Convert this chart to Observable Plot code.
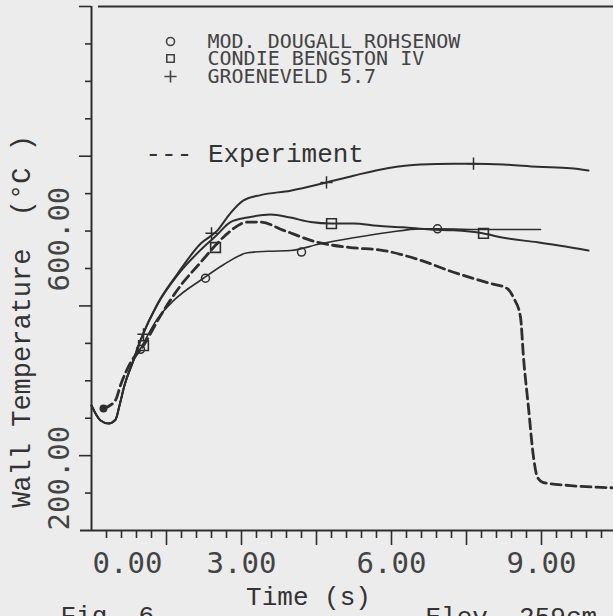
<!DOCTYPE html>
<html><head><meta charset="utf-8">
<script src="https://cdn.jsdelivr.net/npm/d3@7"></script>
<script src="https://cdn.jsdelivr.net/npm/@observablehq/plot@0.6"></script>
<style>
html,body{margin:0;padding:0;background:#ececec;overflow:hidden}
g[aria-label="legendtxt"] text{letter-spacing:2.6px}
</style>
</head><body><div id="chart"></div>
<script>
// ---- data (time s, wall temperature °C) ----
const expT = [0.24,0.48,0.58,0.78,1.04,1.38,1.78,2.18,2.48,2.74,3.12,3.38,3.84,4.52,5.18,5.84,6.58,7.24,7.92,8.32,8.44,8.58,8.64,8.74,8.84,8.92,9.04,9.58,10.44];
const expW = [363,374,394,424,447,487,527,558,581,598,612,612,601,585,578,574,561,545,531,523,511,485,431,364,298,271,264,260,257];

const groT = [0,0.18,0.34,0.48,0.56,0.66,0.82,0.98,1.32,1.72,2.18,2.52,2.78,3.04,3.38,3.98,4.7,5.24,5.92,6.58,7.24,7.64,8.24,8.92,9.58,9.94];
const groW = [367,347,343,348,367,394,424,454,503,543,583,601,624,641,648,654,665,674,684,689,690,690,689,686,684,681];

const conT = [0,0.18,0.34,0.48,0.56,0.66,0.82,0.98,1.32,1.72,2.28,2.48,2.78,3.12,3.58,3.98,4.38,4.8,5.24,5.72,6.24,6.78,7.24,7.82,8.24,8.92,9.94];
const conW = [367,347,343,348,367,394,424,454,502,541,581,593,612,618,622,618,612,610,610,607,605,602,601,597,591,585,574];

const douT = [0,0.18,0.34,0.48,0.56,0.66,0.82,0.98,1.32,1.64,2.24,2.64,3.12,3.52,3.98,4.58,5.24,5.92,6.58,6.92,7.92,8.98];
const douW = [367,347,343,348,367,394,424,443,483,507,537,555,571,573,574,583,591,598,603,603,602,602];

// markers
const circT = [0.98,2.28,4.2,6.92];  const circW = [442,537,572,603];
const sqT   = [1.04,2.48,4.8,7.84];  const sqW   = [447,578,610,597];
const plusT = [1.04,2.4,4.7,7.64];   const plusW = [462,597,665,690];
const startT = [0.24];               const startW = [363];

const seriesNames = ["MOD. DOUGALL ROHSENOW","CONDIE BENGSTON IV","GROENEVELD 5.7"];
const expName = "--- Experiment";
const xTickLabels = [0,3,6,9];
const yTickLabels = [200,600];
const xMajor = [1.5,3,4.5,6,7.5,9];
const yMajor = [300,500,700,900];
const xTitle = "Time (s)";
const yTitle = "Wall Temperature  (°C )";
const capLeft = "Fig. 6";
const capRight = "Elev. 259cm";

// ---- layout ----
const W = 613, H = 616, mL = 91, mR = 0, mT = 6, mB = 86;
const xDom = [0, 10.44], yDom = [200, 900];
const pxX = (W - mL - mR) / (xDom[1] - xDom[0]);
const pxY = (H - mT - mB) / (yDom[1] - yDom[0]);
const xMinor = d3.range(0.3, 10.44, 0.3).filter(v => Math.abs(v/1.5 - Math.round(v/1.5)) > 1e-6);
const yMinor = d3.range(250, 900, 50).filter(v => !yMajor.includes(v));

const zip = (T, V) => T.map((t, i) => ({t, w: V[i]}));
const ink = "#2e2e2e";
const plotter = "DejaVu Sans Mono";
const typer = "Liberation Mono";
const legendRows = [35, 52, 70];
const legendSymbols = ["circle", "square", "plus"];

const chart = Plot.plot({
  width: W, height: H,
  marginLeft: mL, marginRight: mR, marginTop: mT, marginBottom: mB,
  x: {domain: xDom, axis: null},
  y: {domain: yDom, axis: null},
  style: {background: "#ececec", overflow: "visible"},
  marks: [
    // axes
    Plot.ruleX([0], {stroke: ink, strokeWidth: 2}),
    Plot.ruleY([200], {x1: -11/pxX, x2: xDom[1], stroke: ink, strokeWidth: 2}),
    Plot.ruleY([900], {x1: 7/pxX, x2: xDom[1], stroke: ink, strokeWidth: 2}),
    Plot.ruleX(xMinor, {x: d => d, y1: 200, y2: 200 - 8/pxY, stroke: ink, strokeWidth: 1.6}),
    Plot.ruleX(xMajor, {x: d => d, y1: 200, y2: 200 - 15/pxY, stroke: ink, strokeWidth: 1.6}),
    Plot.ruleY(yMinor, {y: d => d, x1: 0, x2: -6/pxX, stroke: ink, strokeWidth: 1.6}),
    Plot.ruleY(yMajor, {y: d => d, x1: 0, x2: -12/pxX, stroke: ink, strokeWidth: 1.6}),
    // tick labels
    Plot.text(xTickLabels.slice(0,1), {x: d => d, y: 200, text: d => d.toFixed(2), textAnchor: "start", dx: 1, dy: 33, fontSize: 29, fontFamily: plotter, fill: "#444"}),
    Plot.text(xTickLabels.slice(1), {x: d => d, y: 200, text: d => d.toFixed(2), textAnchor: "middle", dy: 33, fontSize: 29, fontFamily: plotter, fill: "#444"}),
    Plot.text(yTickLabels.slice(0,1), {x: 0, y: d => d, text: d => d.toFixed(2), rotate: -90, textAnchor: "start", dx: -32, fontSize: 29, fontFamily: plotter, fill: "#444"}),
    Plot.text(yTickLabels.slice(1), {x: 0, y: d => d, text: d => d.toFixed(2), rotate: -90, textAnchor: "middle", dx: -32, dy: 8, fontSize: 29, fontFamily: plotter, fill: "#444"}),
    // axis titles & captions
    Plot.text([yTitle], {frameAnchor: "left", text: d => d, rotate: -90, textAnchor: "middle", dx: -70, dy: 53, fontSize: 27, fontFamily: typer, fill: "#333"}),
    Plot.text([xTitle], {frameAnchor: "bottom-left", text: d => d, textAnchor: "middle", dx: 217, dy: 74, fontSize: 26, fontFamily: typer, fill: "#333"}),
    Plot.text([capLeft], {frameAnchor: "bottom-left", text: d => d, textAnchor: "start", dx: -31, dy: 93, fontSize: 26, fontFamily: typer, fill: "#333"}),
    Plot.text([capRight], {frameAnchor: "bottom-left", text: d => d, textAnchor: "start", dx: 334, dy: 94, fontSize: 26, fontFamily: typer, fill: "#333"}),
    // data lines
    Plot.line(zip(groT, groW), {x: "t", y: "w", stroke: ink, strokeWidth: 2, curve: "monotone-x"}),
    Plot.line(zip(conT, conW), {x: "t", y: "w", stroke: ink, strokeWidth: 2, curve: "monotone-x"}),
    Plot.line(zip(douT, douW), {x: "t", y: "w", stroke: ink, strokeWidth: 1.6, curve: "monotone-x"}),
    Plot.line(zip(expT, expW), {x: "t", y: "w", stroke: ink, strokeWidth: 2.8, strokeDasharray: "10,5", curve: "monotone-x"}),
    // markers
    Plot.dot(zip(circT, circW), {x: "t", y: "w", r: 4, stroke: ink, strokeWidth: 1.5, fill: "none"}),
    Plot.dot(zip(sqT, sqW), {x: "t", y: "w", symbol: "square", r: 5.5, stroke: ink, strokeWidth: 1.6, fill: "none"}),
    Plot.dot(zip(plusT, plusW), {x: "t", y: "w", symbol: "plus", r: 4, stroke: ink, strokeWidth: 1.5, fill: "none"}),
    Plot.dot(zip(startT, startW), {x: "t", y: "w", r: 4, fill: ink, stroke: "none"}),
    // legend
    ...legendSymbols.map((s, i) => Plot.dot([s], {frameAnchor: "top-left", dx: 79, dy: legendRows[i], symbol: s, r: s === "square" ? 4.2 : 4, stroke: "#444", strokeWidth: 1.6, fill: "none"})),
    ...seriesNames.map((n, i) => Plot.text([n], {frameAnchor: "top-left", text: d => d, textAnchor: "start", lineAnchor: "middle", dx: 116, dy: legendRows[i], fontSize: 20, fontFamily: plotter, fill: "#444", ariaLabel: "legendtxt"})),
    Plot.text([expName], {frameAnchor: "top-left", text: d => d, textAnchor: "start", dx: 54, dy: 137, fontSize: 26, fontFamily: typer, fill: "#333"})
  ]
});
document.getElementById("chart").appendChild(chart);
</script>
</body></html>
